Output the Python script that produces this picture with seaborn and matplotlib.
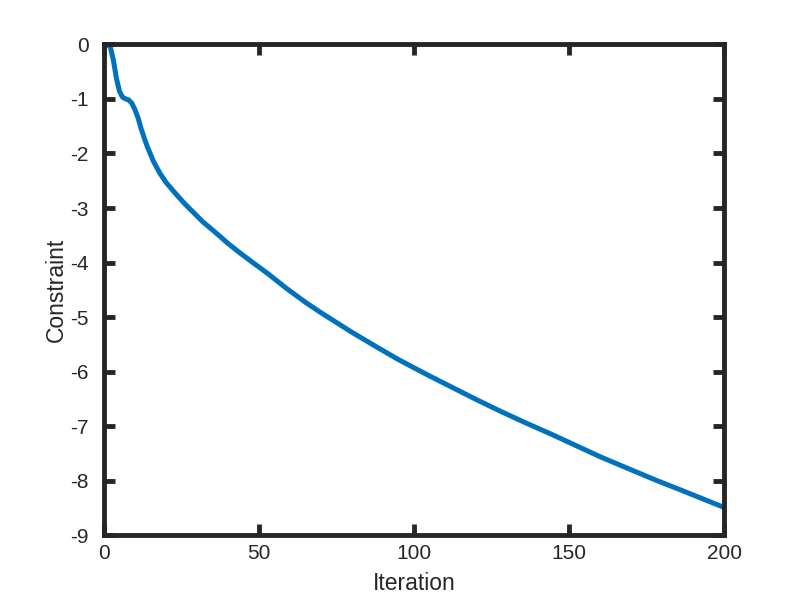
import pandas as pd
import matplotlib.pyplot as plt
import seaborn as sns

# Values
iteration = [1, 2, 3, 4, 5, 6, 7, 8, 9, 10, 11, 12, 13, 14, 16, 18, 20, 23, 26, 29,
             32, 36, 40, 44, 48, 53, 59, 65, 70, 75, 80, 88, 95, 104, 112, 120, 128,
             136, 144, 152, 160, 170, 178, 186, 193, 200]
constraint = [0.0, -0.04, -0.28, -0.62, -0.86, -0.97, -1.0, -1.02, -1.08, -1.2, -1.35,
              -1.55, -1.72, -1.88, -2.15, -2.36, -2.53, -2.73, -2.92, -3.09, -3.26,
              -3.45, -3.65, -3.83, -4.0, -4.21, -4.48, -4.73, -4.92, -5.1, -5.28, -5.55,
              -5.78, -6.05, -6.28, -6.51, -6.73, -6.94, -7.14, -7.35, -7.56, -7.8, -7.99,
              -8.17, -8.33, -8.49]

x_ticks = [0, 50, 100, 150, 200]
y_ticks = [0, -1, -2, -3, -4, -5, -6, -7, -8, -9]

df = pd.DataFrame({'Iteration': iteration, 'Constraint': constraint})

sns.set_style('white')
plt.rcParams['font.family'] = ['Liberation Sans', 'DejaVu Sans']
plt.rcParams['axes.unicode_minus'] = False

fig = plt.figure(figsize=(8, 6), dpi=100)
ax = fig.add_axes([0.13, 0.108, 0.775, 0.818])

sns.lineplot(data=df, x='Iteration', y='Constraint', color='#0072BD', linewidth=3.6, ax=ax)

ax.set_xlim(0, 200)
ax.set_ylim(-9, 0)
ax.set_xticks(x_ticks)
ax.set_yticks(y_ticks)
ax.set_xlabel('Iteration', fontsize=16.5, color='#262626', labelpad=7)
ax.set_ylabel('Constraint', fontsize=16.5, color='#262626', labelpad=2)
ax.tick_params(direction='in', length=8, width=3.5, labelsize=15,
               bottom=True, left=True, top=True, right=True, colors='#262626')
ax.tick_params(axis='y', pad=11)
ax.tick_params(axis='x', pad=6)
for spine in ax.spines.values():
    spine.set_visible(True)
    spine.set_linewidth(3.5)
    spine.set_color('#262626')

fig.savefig('out.png', dpi=100)
